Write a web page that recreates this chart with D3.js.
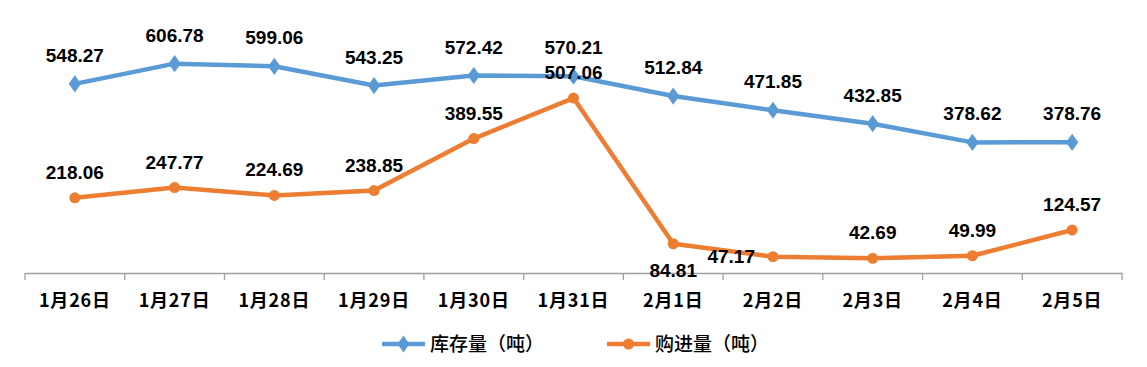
<!DOCTYPE html>
<html><head><meta charset="utf-8">
<script src="https://cdn.jsdelivr.net/npm/d3@7"></script>
<style>body{margin:0;background:#fff}svg{display:block}</style>
</head><body>
<script>
const categories = ["1月26日","1月27日","1月28日","1月29日","1月30日","1月31日","2月1日","2月2日","2月3日","2月4日","2月5日"];
const stockValues = [548.27,606.78,599.06,543.25,572.42,570.21,512.84,471.85,432.85,378.62,378.76];
const purchaseValues = [218.06,247.77,224.69,238.85,389.55,507.06,84.81,47.17,42.69,49.99,124.57];
const seriesNames = ["库存量（吨）","购进量（吨）"];
const purchaseLabelPlacement = ["above","above","above","above","above","above","below","left","above","above","above"];

const W = 1147, H = 367;
const svg = d3.select("body").append("svg").attr("width", W).attr("height", H);
const x = d3.scaleBand().domain(categories).range([25, 1122]);
const y = d3.scaleLinear().domain([0, 700]).range([273, 31.5]);
const cx = d => x(d) + x.bandwidth() / 2;

const BLUE = "#5B9BD5", ORANGE = "#ED7D31";
const numFont = "'Liberation Sans', Arial, sans-serif";
const cjkFont = "'Noto Sans CJK SC', sans-serif";

// axis
const axis = d3.axisBottom(x).tickSize(7).tickSizeOuter(0).tickFormat("");
const gx = svg.append("g").attr("transform", "translate(0,273)").call(axis);
gx.select(".domain").attr("stroke", "#A0A0A0").attr("stroke-width", 1.3);
gx.selectAll(".tick").remove();
// category boundary ticks
const bounds = categories.map(c => x(c)).concat([x.range()[1]]);
svg.append("g").selectAll("line").data(bounds).join("line")
  .attr("x1", d => d).attr("x2", d => d).attr("y1", 273).attr("y2", 280)
  .attr("stroke", "#A0A0A0").attr("stroke-width", 1.3);
svg.append("g").selectAll("text").data(categories).join("text")
  .attr("x", d => cx(d)).attr("y", 306.5).attr("text-anchor", "middle")
  .attr("font-family", cjkFont).attr("font-weight", "bold").attr("font-size", 18)
  .attr("letter-spacing", 0.8)
  .attr("fill", "#000").text(d => d);

const line = d3.line().x((d, i) => cx(categories[i])).y(d => y(d));

// stock series
svg.append("path").datum(stockValues).attr("d", line).attr("fill", "none")
  .attr("stroke", BLUE).attr("stroke-width", 4.5).attr("stroke-linejoin", "round");
const diamond = d3.symbol().type(d3.symbolDiamond).size(85);
svg.append("g").selectAll("path").data(stockValues).join("path")
  .attr("d", diamond).attr("transform", (d, i) => `translate(${cx(categories[i])},${y(d)}) scale(1.25,1)`)
  .attr("fill", BLUE);

// purchase series
svg.append("path").datum(purchaseValues).attr("d", line).attr("fill", "none")
  .attr("stroke", ORANGE).attr("stroke-width", 4.5).attr("stroke-linejoin", "round");
svg.append("g").selectAll("circle").data(purchaseValues).join("circle")
  .attr("cx", (d, i) => cx(categories[i])).attr("cy", d => y(d)).attr("r", 5.5)
  .attr("fill", ORANGE);

// labels
const fmt = d3.format(".2f");
svg.append("g").selectAll("text").data(stockValues).join("text")
  .attr("x", (d, i) => cx(categories[i])).attr("y", d => y(d) - 22)
  .attr("text-anchor", "middle").attr("font-family", numFont).attr("font-weight", "bold")
  .attr("font-size", 19).attr("fill", "#000").text(d => fmt(d));
svg.append("g").selectAll("text").data(purchaseValues).join("text")
  .attr("x", (d, i) => {
    const p = purchaseLabelPlacement[i];
    return p === "left" ? cx(categories[i]) - 18 : cx(categories[i]);
  })
  .attr("y", (d, i) => {
    const p = purchaseLabelPlacement[i];
    if (p === "below") return y(d) + 33;
    if (p === "left") return y(d) + 6.5;
    return y(d) - 19;
  })
  .attr("text-anchor", (d, i) => purchaseLabelPlacement[i] === "left" ? "end" : "middle")
  .attr("font-family", numFont).attr("font-weight", "bold")
  .attr("font-size", 19).attr("fill", "#000").text(d => fmt(d));

// legend
const legend = [
  {name: seriesNames[0], color: BLUE, x0: 382, type: "diamond"},
  {name: seriesNames[1], color: ORANGE, x0: 607, type: "circle"}
];
const lg = svg.append("g");
legend.forEach(l => {
  lg.append("line").attr("x1", l.x0).attr("x2", l.x0 + 43).attr("y1", 344).attr("y2", 344)
    .attr("stroke", l.color).attr("stroke-width", 4.5);
  if (l.type === "diamond") {
    lg.append("path").attr("d", diamond).attr("transform", `translate(${l.x0 + 21.5},344) scale(1.2,1)`).attr("fill", l.color);
  } else {
    lg.append("circle").attr("cx", l.x0 + 21.5).attr("cy", 344).attr("r", 5.5).attr("fill", l.color);
  }
  lg.append("text").attr("x", l.x0 + 48).attr("y", 351).attr("font-family", cjkFont)
    .attr("font-size", 19).attr("font-weight", 500).attr("fill", "#000").text(l.name);
});
</script>
</body></html>
